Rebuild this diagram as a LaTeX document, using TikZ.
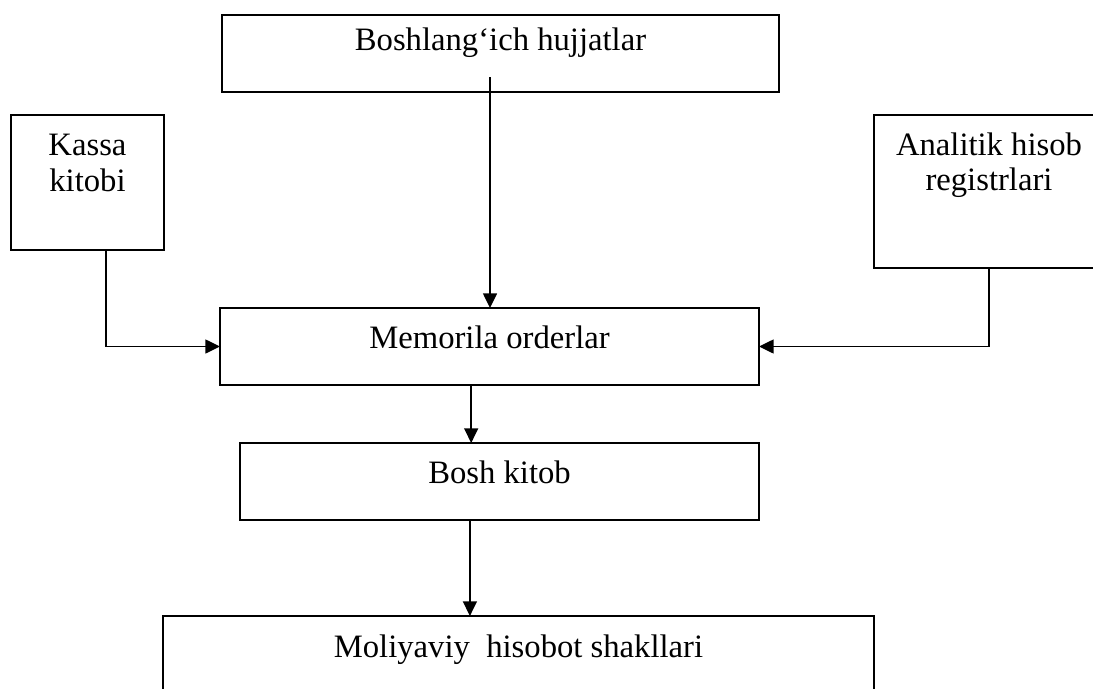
\documentclass[tikz,border=0pt]{standalone}
\usepackage{fontspec}
\setmainfont{Liberation Serif}
\usetikzlibrary{arrows.meta,calc}
\begin{document}
\begin{tikzpicture}[x=0.75pt,y=-0.75pt,
  box/.style={draw, line width=1.1pt, inner sep=0pt, outer sep=0pt, rectangle},
  lbl/.style={anchor=base, inner sep=0pt, font=\fontsize{24.5}{28}\selectfont},
  arr/.style={line width=1.1pt, -{Triangle[length=11pt,width=10.5pt]}}]
  \useasboundingbox (0,0) rectangle (1093,689);

  % boxes (centre, width, height in pixel units)
  \node[box, minimum width=557*0.75pt, minimum height=77*0.75pt] (top) at (500.5,53.5) {};
  \node[box, minimum width=153*0.75pt, minimum height=135*0.75pt] (kassa) at (87.5,182.5) {};
  \node[box, minimum width=230*0.75pt, minimum height=153*0.75pt] (anal) at (989,191.5) {};
  \node[box, minimum width=539*0.75pt, minimum height=77*0.75pt] (mem) at (489.5,346.5) {};
  \node[box, minimum width=519*0.75pt, minimum height=77*0.75pt] (bosh) at (499.5,481.5) {};
  \node[box, minimum width=711*0.75pt, minimum height=104*0.75pt] (moli) at (518.5,668) {};

  % texts
  \node[lbl] (ttop) at (500.5,50) {Boshlang‘ich hujjatlar};
  \node[lbl] (tkassa1) at (87.5,155) {Kassa};
  \node[lbl] (tkassa2) at (87.5,191) {kitobi};
  \node[lbl] (tanal1) at (989,155) {Analitik hisob};
  \node[lbl] (tanal2) at (989,190) {registrlari};
  \node[lbl] (tmem) at (489.5,348) {Memorila orderlar};
  \node[lbl] (tbosh) at (499.5,483) {Bosh kitob};
  \node[lbl] (tmoli) at (518.5,657) {Moliyaviy\ \ hisobot shakllari};

  % connectors
  \coordinate (topstart) at (490,77);
  \draw[arr] (topstart) -- (topstart |- mem.north);
  \draw[arr] ($(kassa.south west)!0.62!(kassa.south east)$) |- (mem.west);
  \draw[arr] (anal.south) |- (mem.east);
  \coordinate (memout) at ($(mem.south west)!0.466!(mem.south east)$);
  \draw[arr] (memout) -- (memout |- bosh.north);
  \coordinate (boshout) at ($(bosh.south west)!0.443!(bosh.south east)$);
  \draw[arr] (boshout) -- (boshout |- moli.north);
\end{tikzpicture}
\end{document}
